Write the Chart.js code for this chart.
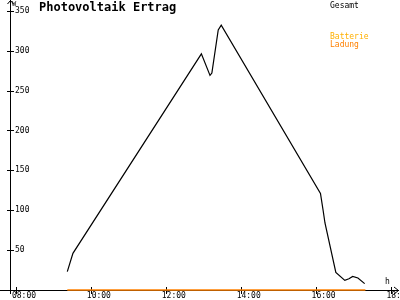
<!DOCTYPE html>
<html>
<head>
<meta charset="utf-8">
<script src="https://cdn.jsdelivr.net/npm/chart.js@4"></script>
<style>body{margin:0;background:#fff}</style>
</head>
<body>
<canvas id="pvChart" width="400" height="300"></canvas>
<script>
// Gesamt (W) over time (hours)
const hours = [9.37, 9.52, 12.95, 13.18, 13.23, 13.40, 13.48, 16.13, 16.20, 16.25, 16.54, 16.78, 16.89, 16.99, 17.13, 17.31];
const gesamt = [23, 46, 296, 269, 272, 326, 332, 121, 100, 84, 22, 12, 14, 17, 15, 8];
// Ladung (battery charging) stays at zero
const ladungHours = [9.37, 17.33];
const ladung = [0, 0];
const xTicks = [8, 10, 12, 14, 16, 18];
const yTicks = [50, 100, 150, 200, 250, 300, 350];

const mono = "'DejaVu Sans Mono', monospace";

const axesPlugin = {
  id: "axes",
  beforeDatasetsDraw(chart) {
    const { ctx, chartArea: a, scales } = chart;
    ctx.save();
    ctx.strokeStyle = "#000";
    ctx.lineWidth = 1;
    ctx.beginPath();
    // y axis with arrow
    ctx.moveTo(10.5, a.bottom + 4); ctx.lineTo(10.5, 0);
    ctx.moveTo(7.5, 4); ctx.lineTo(10.5, 0.5); ctx.lineTo(13.5, 4);
    // x axis with arrow
    ctx.moveTo(0, a.bottom + 0.5); ctx.lineTo(399, a.bottom + 0.5);
    ctx.moveTo(394, a.bottom - 3); ctx.lineTo(398.5, a.bottom + 0.5); ctx.lineTo(394, a.bottom + 4);
    yTicks.forEach(v => {
      const y = Math.round(scales.y.getPixelForValue(v)) + 0.5;
      ctx.moveTo(7, y); ctx.lineTo(14, y);
    });
    xTicks.forEach(v => {
      const x = Math.round(scales.x.getPixelForValue(v)) + 0.5;
      ctx.moveTo(x, a.bottom - 3); ctx.lineTo(x, a.bottom + 4);
    });
    ctx.stroke();
    ctx.restore();
  },
  afterDraw(chart) {
    const { ctx, chartArea: a } = chart;
    ctx.save();
    ctx.textBaseline = "alphabetic";
    ctx.fillStyle = "#000";
    ctx.font = "bold 12px " + mono;
    ctx.fillText("Photovoltaik Ertrag", 39, 11);
    ctx.font = "8px " + mono;
    ctx.fillText("Gesamt", 330, 7.5);
    ctx.fillText("h", 385, a.bottom - 6);
    ctx.font = "7px " + mono;
    ctx.fillText("W", 12, 6);
    ctx.font = "8px " + mono;
    ctx.fillStyle = "#ffb000";
    ctx.fillText("Batterie", 330, 39);
    ctx.fillStyle = "#ff8000";
    ctx.fillText("Ladung", 330, 46.5);
    ctx.restore();
  }
};

new Chart(document.getElementById("pvChart"), {
  type: "line",
  data: {
    datasets: [
      {
        label: "Ladung",
        data: ladungHours.map((h, i) => ({ x: h, y: ladung[i] })),
        borderColor: "#ff8000",
        borderWidth: 1.5,
        pointRadius: 0,
        clip: false
      },
      {
        label: "Gesamt",
        data: hours.map((h, i) => ({ x: h, y: gesamt[i] })),
        borderColor: "#000",
        borderWidth: 1.2,
        pointRadius: 0,
        tension: 0,
        clip: false
      }
    ]
  },
  options: {
    responsive: false,
    animation: false,
    layout: { padding: { left: 10, right: 2, top: 2, bottom: 0 } },
    plugins: {
      legend: { display: false },
      tooltip: { enabled: false }
    },
    scales: {
      x: {
        type: "linear",
        min: 7.84,
        max: 18.2,
        afterBuildTicks: s => { s.ticks = xTicks.map(v => ({ value: v })); },
        afterFit: s => { s.height = 10; s.paddingLeft = 0; s.paddingRight = 0; },
        grid: { display: false, drawTicks: false },
        border: { display: false },
        ticks: {
          autoSkip: false,
          maxRotation: 0,
          padding: 1,
          labelOffset: 8,
          color: "#000",
          font: { family: mono, size: 8 },
          callback: v => String(v).padStart(2, "0") + ":00"
        }
      },
      y: {
        min: 0,
        max: 361,
        afterBuildTicks: s => { s.ticks = yTicks.map(v => ({ value: v })); },
        afterFit: s => { s.width = 0; s.paddingTop = 0; s.paddingBottom = 0; },
        grid: { display: false, drawTicks: false },
        border: { display: false },
        ticks: {
          mirror: true,
          padding: 5,
          color: "#000",
          font: { family: mono, size: 8 }
        }
      }
    }
  },
  plugins: [axesPlugin]
});
</script>
</body>
</html>
